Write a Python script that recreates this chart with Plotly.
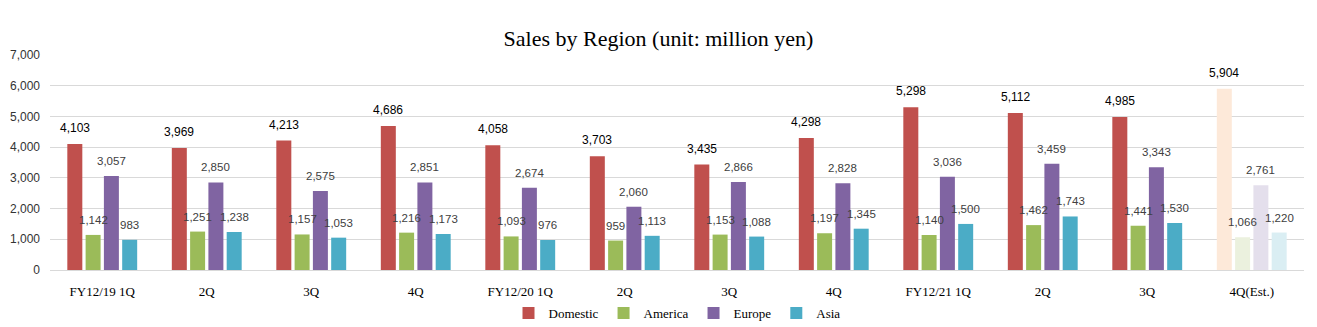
import plotly.graph_objects as go

categories = ["FY12/19 1Q", "2Q", "3Q", "4Q", "FY12/20 1Q", "2Q", "3Q", "4Q",
              "FY12/21 1Q", "2Q", "3Q", "4Q(Est.)"]
domestic = [4103, 3969, 4213, 4686, 4058, 3703, 3435, 4298, 5298, 5112, 4985, 5904]
america = [1142, 1251, 1157, 1216, 1093, 959, 1153, 1197, 1140, 1462, 1441, 1066]
europe = [3057, 2850, 2575, 2851, 2674, 2060, 2866, 2828, 3036, 3459, 3343, 2761]
asia = [983, 1238, 1053, 1173, 976, 1113, 1088, 1345, 1500, 1743, 1530, 1220]

series = [
    ("Domestic", domestic, "#C0504D", "#FDE9D9", "#000000", 12),
    ("America", america, "#9BBB59", "#EBF1DE", "#404040", 11.5),
    ("Europe", europe, "#8064A2", "#E4DFEC", "#404040", 11.5),
    ("Asia", asia, "#4BACC6", "#DAEEF3", "#404040", 11.5),
]

x = list(range(len(categories)))
bargap = 0.3
n = len(series)
slot = (1 - bargap) / n

fig = go.Figure()
annotations = []
for k, (name, vals, col, faded, tcol, tsize) in enumerate(series):
    colors = [col] * (len(vals) - 1) + [faded]
    fig.add_trace(go.Bar(x=x, y=vals, name=name, marker=dict(color=colors, line=dict(width=0)),
                         hoverinfo="skip"))
    off = (k - (n - 1) / 2) * slot
    for i, v in enumerate(vals):
        annotations.append(dict(x=i + off, y=v, text=f"{v:,}", showarrow=False,
                                xref="x", yref="y", yanchor="bottom", yshift=7,
                                font=dict(family="Liberation Sans, Arial", size=tsize, color=tcol)))

fig.update_layout(
    width=1317, height=327,
    margin=dict(l=50, r=13, t=55, b=57, autoexpand=False),
    paper_bgcolor="white", plot_bgcolor="white",
    barmode="group", bargap=bargap, bargroupgap=0.18,
    title=dict(text="Sales by Region (unit: million yen)", x=0.5, xanchor="center",
               y=1 - 38 / 327, yanchor="middle", yref="container",
               font=dict(family="Liberation Serif, Times New Roman", size=22, color="#000000")),
    xaxis=dict(tickvals=x, ticktext=categories, range=[-0.5, len(categories) - 0.5],
               showline=True, linecolor="#D9D9D9", linewidth=1, ticks="outside",
               ticklen=9, tickcolor="rgba(0,0,0,0)", showgrid=False, automargin=False,
               tickfont=dict(family="Liberation Serif, Times New Roman", size=13, color="#000000"),
               zeroline=False),
    yaxis=dict(range=[0, 7000], dtick=1000, tickformat=",", showgrid=True, gridcolor="#D9D9D9",
               gridwidth=1, zeroline=False, ticks="", ticklen=0, automargin=False,
               ticklabelstandoff=9,
               tickfont=dict(family="Liberation Sans, Arial", size=12, color="#333333")),
    legend=dict(orientation="h", x=0.5, xanchor="center", y=1 - 313 / 327, yanchor="middle",
                yref="container", bgcolor="rgba(0,0,0,0)",
                font=dict(family="Liberation Serif, Times New Roman", size=13, color="#000000"),
                itemwidth=30, traceorder="normal"),
    annotations=annotations,
    showlegend=True,
)

fig.write_html("out.html")
